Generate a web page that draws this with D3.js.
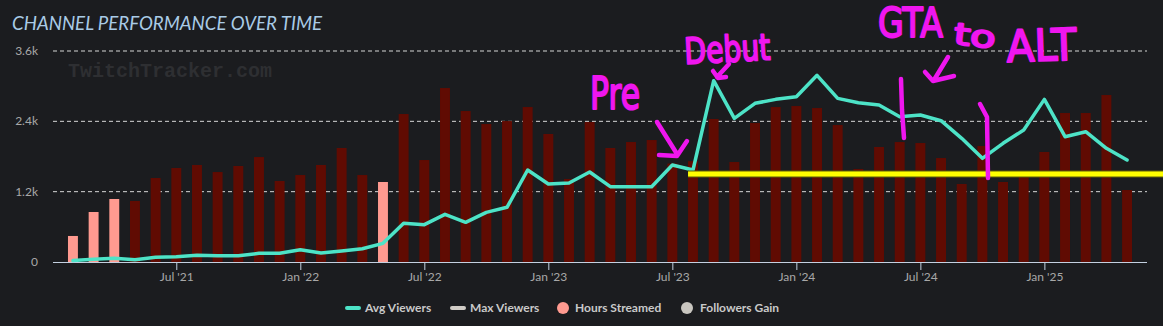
<!DOCTYPE html>
<html>
<head>
<meta charset="utf-8">
<script src="https://cdn.jsdelivr.net/npm/d3@7"></script>
<style>
  html, body { margin: 0; padding: 0; background: #1b1c1f; }
  svg { display: block; }
</style>
</head>
<body>
<svg id="chart" width="1163" height="326"></svg>
<script>
// Monthly channel stats, Feb 2021 – May 2025
const months = [
  "2021-02","2021-03","2021-04","2021-05","2021-06","2021-07","2021-08","2021-09","2021-10","2021-11","2021-12",
  "2022-01","2022-02","2022-03","2022-04","2022-05","2022-06","2022-07","2022-08","2022-09","2022-10","2022-11","2022-12",
  "2023-01","2023-02","2023-03","2023-04","2023-05","2023-06","2023-07","2023-08","2023-09","2023-10","2023-11","2023-12",
  "2024-01","2024-02","2024-03","2024-04","2024-05","2024-06","2024-07","2024-08","2024-09","2024-10","2024-11","2024-12",
  "2025-01","2025-02","2025-03","2025-04","2025-05"
];

const hoursStreamed = [
  444, 853, 1075, 1041, 1433, 1604, 1655, 1535, 1638, 1791, 1382,
  1484, 1655, 1945, 1484, 1365, 2525, 1740, 2968, 2576, 2354, 2405, 2644,
  2184, 1416, 2388, 1945, 2047, 2081, 1680, 1720, 2440, 1706, 2371, 2644,
  2661, 2627, 2337, 1587, 1962, 2047, 2030, 1774, 1331, 1979, 1365, 1450,
  1877, 2542, 2542, 2849, 1228
];

const avgViewers = [
  25, 46, 63, 40, 80, 90, 114, 108, 108, 148, 148,
  210, 153, 188, 227, 318, 660, 637, 813, 677, 847, 933, 1570,
  1331, 1348, 1535, 1285, 1285, 1285, 1655, 1570, 3093, 2451, 2707, 2775,
  2820, 3185, 2792, 2718, 2678, 2479, 2508, 2411, 2110, 1769, 2025, 2252,
  2775, 2138, 2223, 1940, 1740
];

// Months whose bar is drawn in the lighter shade
const lightMonths = ["2021-02", "2021-03", "2021-04", "2022-05"];

const xTickMonths = ["2021-07","2022-01","2022-07","2023-01","2023-07","2024-01","2024-07","2025-01"];
const xTickLabels = ["Jul '21","Jan '22","Jul '22","Jan '23","Jul '23","Jan '24","Jul '24","Jan '25"];
const yTicks = [0, 1200, 2400, 3600];
const yTickLabels = ["0", "1.2k", "2.4k", "3.6k"];

const legendItems = ["Avg Viewers", "Max Viewers", "Hours Streamed", "Followers Gain"];

// Reference level and hand annotations
const baselineLevel = 1500;
const baselineFrom = "2023-08";

const svg = d3.select("#chart");
const W = 1163;

const plot = { left: 53, right: 1147, top: 51, bottom: 262 };

const x = d3.scalePoint().domain(months).range([plot.left, plot.right]).padding(0.965);
const y = d3.scaleLinear().domain([0, 3600]).range([plot.bottom, plot.top]);
const barW = x.step() * 0.48;

// Title
svg.append("text")
  .attr("x", 12).attr("y", 30)
  .attr("font-family", "Lato").attr("font-style", "italic")
  .attr("font-size", 19.5).attr("fill", "#a9cbe6")
  .attr("textLength", 310).attr("lengthAdjust", "spacingAndGlyphs")
  .text("CHANNEL PERFORMANCE OVER TIME");

// Watermark
svg.append("text")
  .attr("x", 68).attr("y", 77)
  .attr("font-family", "Liberation Mono").attr("font-weight", "bold")
  .attr("font-size", 20).attr("fill", "#2e2f32")
  .text("TwitchTracker.com");

// Dashed grid lines
svg.append("g").selectAll("line")
  .data(yTicks.filter(d => d > 0))
  .join("line")
  .attr("x1", plot.left).attr("x2", plot.right)
  .attr("y1", d => y(d)).attr("y2", d => y(d))
  .attr("stroke", "#d6d6d6").attr("stroke-width", 1)
  .attr("stroke-dasharray", "4,3");

// Y labels
svg.append("g").selectAll("text")
  .data(yTicks)
  .join("text")
  .attr("x", 38).attr("y", d => y(d) + 4)
  .attr("text-anchor", "end")
  .attr("font-family", "Lato").attr("font-size", 12)
  .attr("fill", "#a8a8a8")
  .text((d, i) => yTickLabels[i]);

// Bars
svg.append("g").selectAll("rect")
  .data(months)
  .join("rect")
  .attr("x", d => x(d) - barW / 2)
  .attr("width", barW)
  .attr("y", (d, i) => y(hoursStreamed[i]))
  .attr("height", (d, i) => y(0) - y(hoursStreamed[i]))
  .attr("fill", d => lightMonths.includes(d) ? "#ff9a90" : "#600b02");

// X axis
const xAxis = d3.axisBottom(x)
  .tickValues(xTickMonths)
  .tickFormat(d => xTickLabels[xTickMonths.indexOf(d)])
  .tickSize(8).tickSizeOuter(0);
const gx = svg.append("g").attr("transform", `translate(0,${plot.bottom})`).call(xAxis);
gx.select(".domain").attr("stroke", "#c4d0e0").attr("d", `M${plot.left},0.5H${plot.right}`);
gx.selectAll(".tick line").attr("stroke", "#c4d0e0");
gx.selectAll(".tick text")
  .attr("font-family", "Lato").attr("font-size", 12)
  .attr("fill", "#a8a8a8").attr("dy", "0.35em").attr("y", 15);

// Avg viewers line
const line = d3.line().x((d, i) => x(months[i])).y(d => y(d));
svg.append("path")
  .datum(avgViewers)
  .attr("d", line)
  .attr("fill", "none")
  .attr("stroke", "#4de3c7")
  .attr("stroke-width", 3.5)
  .attr("stroke-linejoin", "round")
  .attr("stroke-linecap", "round");

// Yellow reference level
const yl = y(baselineLevel);
const ylx = x(baselineFrom) - barW / 2;
svg.append("line").attr("x1", ylx).attr("x2", W).attr("y1", yl).attr("y2", yl)
  .attr("stroke", "#5e5e08").attr("stroke-width", 7);
svg.append("line").attr("x1", ylx).attr("x2", W).attr("y1", yl).attr("y2", yl)
  .attr("stroke", "#ffff00").attr("stroke-width", 5);

// Marker annotations
const ink = "#ef16ef";
const notes = svg.append("g");
const scribble = (d) => notes.append("path").attr("d", d)
  .attr("fill", "none").attr("stroke", ink).attr("stroke-width", 4.5)
  .attr("stroke-linecap", "round").attr("stroke-linejoin", "round");
const label = (txt, lx, ly, size, len, rot) => notes.append("text")
  .attr("x", lx).attr("y", ly)
  .attr("font-family", "DejaVu Sans").attr("font-size", size)
  .attr("fill", ink).attr("stroke", ink).attr("stroke-width", 2)
  .attr("stroke-linejoin", "round")
  .attr("textLength", len).attr("lengthAdjust", "spacingAndGlyphs")
  .attr("transform", rot ? `rotate(${rot},${lx},${ly})` : null)
  .text(txt);

label("Pre", 590, 109, 44, 50, 0);
scribble("M657,122 L677,154 M659,155 L677,156 L687,141");

label("Debut", 685, 64, 36, 86, -3);
scribble("M729,64 L717,77 M713,71 L718,78 L726,77");

label("GTA", 878, 37, 41, 65, 0);
label("to", 953, 44, 30, 42, 6);
label("ALT", 1007, 62, 44, 70, -2);
scribble("M948,57 L934,80 M925,72 L933,81 L954,76");

scribble("M901,79 L902,110 L904,138");
scribble("M980,104 L987,117 L988,178");

// Legend
const leg = svg.append("g").attr("font-family", "Lato").attr("font-weight", "bold")
  .attr("font-size", 12).attr("fill", "#c9c9c9");
const legY = 308;
leg.append("line").attr("x1", 347).attr("x2", 359).attr("y1", legY).attr("y2", legY)
  .attr("stroke", "#4de3c7").attr("stroke-width", 4).attr("stroke-linecap", "round");
leg.append("text").attr("x", 365).attr("y", legY + 4).text(legendItems[0]);
leg.append("line").attr("x1", 452).attr("x2", 464).attr("y1", legY).attr("y2", legY)
  .attr("stroke", "#d0ccc6").attr("stroke-width", 4).attr("stroke-linecap", "round");
leg.append("text").attr("x", 470).attr("y", legY + 4).text(legendItems[1]);
leg.append("circle").attr("cx", 563).attr("cy", legY).attr("r", 6).attr("fill", "#ff9a90");
leg.append("text").attr("x", 575).attr("y", legY + 4).text(legendItems[2]);
leg.append("circle").attr("cx", 687).attr("cy", legY).attr("r", 6).attr("fill", "#c9c6c0");
leg.append("text").attr("x", 700).attr("y", legY + 4).text(legendItems[3]);
</script>
</body>
</html>
